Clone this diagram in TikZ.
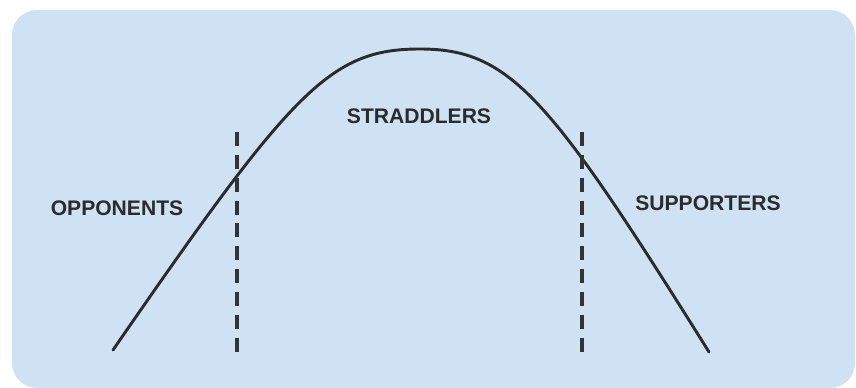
\documentclass[tikz,border=0pt]{standalone}
\usepackage{fontspec}
\setmainfont{Liberation Sans}
\usepackage{xcolor}
\usepackage{tikz}
\definecolor{panelblue}{HTML}{CFE2F3}
\definecolor{curvegray}{HTML}{2B2B2B}
\definecolor{dashgray}{HTML}{333333}

\begin{document}
\begin{tikzpicture}[x=0.03cm, y=-0.03cm, font=\bfseries\fontsize{18}{21}\selectfont,
    group/.style={text=curvegray, inner sep=0pt},
    divider/.style={dashgray, line width=2.6pt, dash pattern=on 12pt off 7.5pt}]
  \useasboundingbox (0,0) rectangle (856,388);
  \fill[panelblue, rounded corners=0.75cm] (12,10) rectangle (855,388);
  \coordinate (start) at (113,350);
  \coordinate (peak) at (420,49);
  \coordinate (end) at (709,352);
  \draw[curvegray, line width=2.5pt, line cap=round]
    (start) .. controls (293,89) and (330,49) .. (peak)
            .. controls (510,49) and (549,96) .. (end);
  \foreach \x in {237, 582} {
    \draw[divider] (\x,132) -- (\x,355);
  }
  \node[group] (opponents) at (117,208) {OPPONENTS};
  \node[group] (straddlers) at (419,116) {STRADDLERS};
  \node[group] (supporters) at (708,203) {SUPPORTERS};
\end{tikzpicture}
\end{document}
